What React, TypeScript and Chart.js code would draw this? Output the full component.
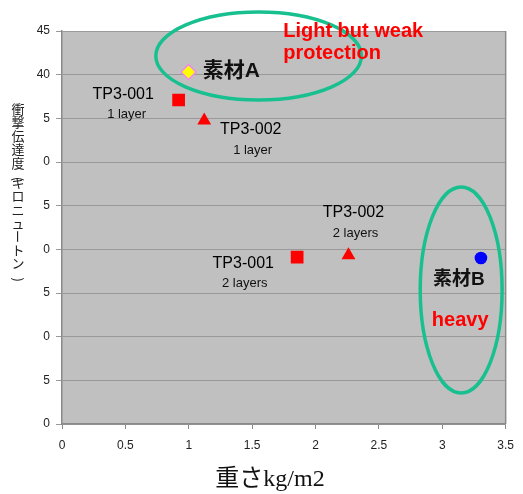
import { useEffect, useRef } from "react";
import { Chart, registerables } from "chart.js";
Chart.register(...registerables);

const xTickValues = [0, 0.5, 1, 1.5, 2, 2.5, 3, 3.5];
const yTickLabels = ["0", "5", "0", "5", "0", "5", "0", "5", "40", "45"];
const materialA = [{ x: 0.998, y: 40.3 }];
const tp3001 = [
  { x: 0.92, y: 37.1 },
  { x: 1.855, y: 19.12 },
];
const tp3002 = [
  { x: 1.122, y: 34.75 },
  { x: 2.26, y: 19.33 },
];
const materialB = [{ x: 3.305, y: 19.0 }];

const xTitle = "重さkg/m2";
const yTitleChars = ["衝", "撃", "伝", "達", "度", "(", "キ", "ロ", "ニ", "ュ", "ー", "ト", "ン", ")"];

type Ann = { text: string; x: number; y: number; font: string; color: string; align: CanvasTextAlign };
const annotations: Ann[] = [
  { text: "Light but weak", x: 1.745, y: 44.9, font: "bold 20px 'Liberation Sans', Arial", color: "#ff0000", align: "left" },
  { text: "protection", x: 1.745, y: 42.4, font: "bold 20px 'Liberation Sans', Arial", color: "#ff0000", align: "left" },
  { text: "素材A", x: 1.11, y: 40.4, font: "bold 21px 'Liberation Sans', 'Noto Sans CJK JP'", color: "#111111", align: "left" },
  { text: "TP3-001", x: 0.483, y: 37.67, font: "16px 'Liberation Sans', Arial", color: "#000000", align: "center" },
  { text: "1 layer", x: 0.51, y: 35.5, font: "13px 'Liberation Sans', Arial", color: "#111111", align: "center" },
  { text: "TP3-002", x: 1.489, y: 33.66, font: "16px 'Liberation Sans', Arial", color: "#000000", align: "center" },
  { text: "1 layer", x: 1.504, y: 31.37, font: "13px 'Liberation Sans', Arial", color: "#111111", align: "center" },
  { text: "TP3-002", x: 2.299, y: 24.16, font: "16px 'Liberation Sans', Arial", color: "#000000", align: "center" },
  { text: "2 layers", x: 2.315, y: 21.87, font: "13px 'Liberation Sans', Arial", color: "#111111", align: "center" },
  { text: "TP3-001", x: 1.43, y: 18.32, font: "16px 'Liberation Sans', Arial", color: "#000000", align: "center" },
  { text: "2 layers", x: 1.442, y: 16.15, font: "13px 'Liberation Sans', Arial", color: "#111111", align: "center" },
  { text: "素材B", x: 3.13, y: 16.55, font: "bold 19px 'Liberation Sans', 'Noto Sans CJK JP'", color: "#111111", align: "center" },
  { text: "heavy", x: 3.141, y: 11.8, font: "bold 20px 'Liberation Sans', Arial", color: "#ff0000", align: "center" },
];

type Ell = { cx: number; cy: number; rx: number; ry: number };
const ellipses: Ell[] = [
  { cx: 1.551, cy: 42.14, rx: 0.811, ry: 5.04 },
  { cx: 3.149, cy: 15.34, rx: 0.323, ry: 11.79 },
];

const decorPlugin = {
  id: "decor",
  beforeDraw(chart: any) {
    const { ctx, chartArea: a } = chart;
    ctx.save();
    ctx.fillStyle = "#ffffff";
    ctx.fillRect(0, 0, chart.width, chart.height);
    ctx.fillStyle = "#c0c0c0";
    ctx.fillRect(a.left, a.top, a.right - a.left, a.bottom - a.top);
    ctx.restore();
  },
  afterDraw(chart: any) {
    const { ctx, chartArea: a, scales } = chart;
    const xs = scales.x;
    const ys = scales.y;
    ctx.save();
    ctx.strokeStyle = "#8a8a8a";
    ctx.lineWidth = 1.5;
    ctx.beginPath();
    ctx.moveTo(a.right, a.top);
    ctx.lineTo(a.right, a.bottom);
    ctx.stroke();
    ctx.strokeStyle = "#19c08f";
    ctx.lineWidth = 3.5;
    for (const e of ellipses) {
      const cx = xs.getPixelForValue(e.cx);
      const cy = ys.getPixelForValue(e.cy);
      const rx = Math.abs(xs.getPixelForValue(e.cx + e.rx) - cx);
      const ry = Math.abs(ys.getPixelForValue(e.cy + e.ry) - cy);
      ctx.beginPath();
      ctx.ellipse(cx, cy, rx, ry, 0, 0, Math.PI * 2);
      ctx.stroke();
    }
    ctx.textBaseline = "middle";
    for (const t of annotations) {
      ctx.font = t.font;
      ctx.fillStyle = t.color;
      ctx.textAlign = t.align;
      ctx.fillText(t.text, xs.getPixelForValue(t.x), ys.getPixelForValue(t.y));
    }
    ctx.font = "24px 'Liberation Serif', 'Noto Sans CJK JP'";
    ctx.fillStyle = "#111111";
    ctx.textAlign = "center";
    ctx.fillText(xTitle, 270, a.bottom + 56);
    ctx.font = "13px 'Noto Sans CJK JP', sans-serif";
    ctx.fillStyle = "#222222";
    let y = a.top + 72 + 6;
    const x = 18;
    for (const ch of yTitleChars) {
      const isParen = ch === "(" || ch === ")";
      const rot = isParen || ch === "ー";
      const step = isParen ? 7 : 13.4;
      const cyc = y + (isParen ? 3 : 0);
      ctx.save();
      ctx.translate(x, cyc);
      if (rot) ctx.rotate(Math.PI / 2);
      ctx.textAlign = "center";
      ctx.fillText(ch, 0, 0);
      ctx.restore();
      y += step;
    }
    ctx.restore();
  },
};

export default function App() {
  const ref = useRef<HTMLCanvasElement | null>(null);
  useEffect(() => {
    document.body.style.margin = "0";
    if (!ref.current) return;
    const chart = new Chart(ref.current, {
      type: "scatter",
      data: {
        datasets: [
          {
            label: "素材A",
            data: materialA,
            pointStyle: "rectRot",
            pointRadius: 7.5,
            backgroundColor: "#ffff00",
            borderColor: "#ee88ee",
            borderWidth: 1.5,
          },
          {
            label: "TP3-001",
            data: tp3001,
            pointStyle: "rect",
            pointRadius: 9,
            backgroundColor: "#ff0000",
            borderColor: "#ff0000",
            borderWidth: 0,
          },
          {
            label: "TP3-002",
            data: tp3002,
            pointStyle: "triangle",
            pointRadius: 8,
            backgroundColor: "#ff0000",
            borderColor: "#ff0000",
            borderWidth: 0,
          },
          {
            label: "素材B",
            data: materialB,
            pointStyle: "circle",
            pointRadius: 6.3,
            backgroundColor: "#0000ff",
            borderColor: "#0000ff",
            borderWidth: 0,
          },
        ],
      },
      options: {
        responsive: false,
        animation: false,
        devicePixelRatio: 1,
        layout: { padding: { top: 31, right: 12, left: 0, bottom: 0 } },
        plugins: { legend: { display: false }, tooltip: { enabled: false } },
        scales: {
          x: {
            type: "linear",
            min: 0,
            max: 3.5,
            afterBuildTicks: (s: any) => {
              s.ticks = xTickValues.map((v) => ({ value: v }));
            },
            afterFit: (s: any) => {
              s.height = 70;
            },
            ticks: {
              padding: 9,
              color: "#222222",
              font: { family: "'Liberation Sans', Arial", size: 12 },
              callback: (v: any) => String(v),
            },
            grid: { drawOnChartArea: false, drawTicks: true, tickLength: 5, color: "#8a8a8a" },
            border: { color: "#8a8a8a", width: 1.5 },
          },
          y: {
            type: "linear",
            min: 0,
            max: 45,
            ticks: {
              stepSize: 5,
              padding: 6,
              color: "#222222",
              font: { family: "'Liberation Sans', Arial", size: 12 },
              callback: (_v: any, i: number) => yTickLabels[i],
            },
            afterFit: (s: any) => {
              s.width = 62;
            },
            grid: { color: "#999999", lineWidth: 1, tickLength: 6, drawTicks: true },
            border: { color: "#8a8a8a", width: 1.5 },
          },
        },
      },
      plugins: [decorPlugin],
    });
    return () => chart.destroy();
  }, []);
  return (
    <div style={{ width: 523, height: 494 }}>
      <canvas ref={ref} width={523} height={494} />
    </div>
  );
}
